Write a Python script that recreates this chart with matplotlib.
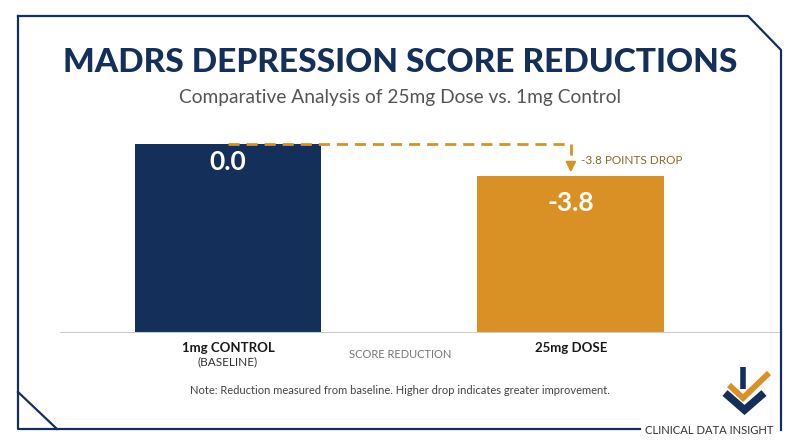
import numpy as np
import matplotlib.pyplot as plt

plt.rcParams['font.family'] = ['Lato', 'DejaVu Sans']

# data
groups = ['1mg CONTROL', '25mg DOSE']
sublabels = ['(BASELINE)', '']
reduction = [0.0, -3.8]
base = -22.5  # bars drawn from a common floor so the drop is visible

navy = '#14305a'
orange = '#d99126'
grey_txt = '#555555'

W, H = 800, 447
fig = plt.figure(figsize=(W / 100, H / 100), dpi=100)

# background layer in pixel coordinates (y down)
bg = fig.add_axes([0, 0, 1, 1])
bg.set_xlim(0, W)
bg.set_ylim(H, 0)
bg.axis('off')

# frame with clipped corners
bg.plot([18, 748, 781, 781], [16, 16, 50, 430], color=navy, lw=1.6)
bg.plot([18, 18, 640], [16, 429, 429], color=navy, lw=1.6)
bg.plot([18, 57], [392, 429], color=navy, lw=1.6)

bg.text(400, 63, 'MADRS DEPRESSION SCORE REDUCTIONS', ha='center', va='center',
        fontsize=24.1, fontweight='black', color=navy)
bg.text(400, 97, 'Comparative Analysis of 25mg Dose vs. 1mg Control', ha='center',
        va='center', fontsize=13.8, color=grey_txt)
bg.text(400, 391, 'Note: Reduction measured from baseline. Higher drop indicates greater improvement.',
        ha='center', va='center', fontsize=8, color='#444444')
bg.text(709, 431, 'CLINICAL DATA INSIGHT', ha='center', va='center', fontsize=8.1, color='#333333')

# logo
bg.plot([742.5, 742.5], [367, 389], color=navy, lw=4, solid_capstyle='butt')
bg.plot([729, 743, 769, ], [385, 398, 373], color=orange, lw=4.2,
        solid_joinstyle='miter', solid_capstyle='butt')
bg.plot([725, 744.5, 764], [393, 410, 393], color=navy, lw=5.5,
        solid_joinstyle='miter', solid_capstyle='butt')

# chart axes
x0, x1 = 60, 780
y_top, y_bot = 101.5, 333
ax = fig.add_axes([x0 / W, 1 - y_bot / H, (x1 - x0) / W, (y_bot - y_top) / H])
ax.set_xlim(-0.49, 1.61)
ax.set_ylim(base, 5)
ax.axis('off')

x = np.arange(len(groups))
heights = [r - base for r in reduction]
ax.bar(x, heights, bottom=base, width=0.545, color=[navy, orange])
ax.axhline(base, color='#cccccc', lw=1.5)

ax.text(x[0], reduction[0] - 2.2, f'{reduction[0]:.1f}', ha='center', va='center',
        color='white', fontsize=19, fontweight='bold')
ax.text(x[1], reduction[1] - 3.3, f'{reduction[1]:.1f}', ha='center', va='center',
        color='white', fontsize=19, fontweight='bold')

# drop annotation
dash = (0, (4, 2.5))
ax.plot([x[0], x[1]], [reduction[0], reduction[0]], color=orange, lw=2, ls=dash)
ax.plot([x[1], x[1]], [reduction[0], reduction[1] + 1.5], color=orange, lw=2, ls=dash)
ax.annotate('', xy=(x[1], reduction[1] + 0.05), xytext=(x[1], reduction[1] + 1.6),
            arrowprops=dict(arrowstyle='-|>', color=orange, lw=1.5, mutation_scale=15))
ax.text(x[1] + 0.03, (reduction[0] + reduction[1]) / 2 - 0.1,
        f'{reduction[1]:.1f} POINTS DROP', ha='left', va='center', fontsize=8.5, color='#8a6a2a')

# category labels
for i, g in enumerate(groups):
    bg.text(228 + 343 * i, 348, g, ha='center', va='center', fontsize=9.5, fontweight='bold', color='#1a1a1a')
    if sublabels[i]:
        bg.text(228 + 343 * i, 362, sublabels[i], ha='center', va='center', fontsize=8.5, color='#333333')
bg.text(400, 355, 'SCORE REDUCTION', ha='center', va='center', fontsize=8, color='#777777')

fig.savefig('out.png', dpi=100)
